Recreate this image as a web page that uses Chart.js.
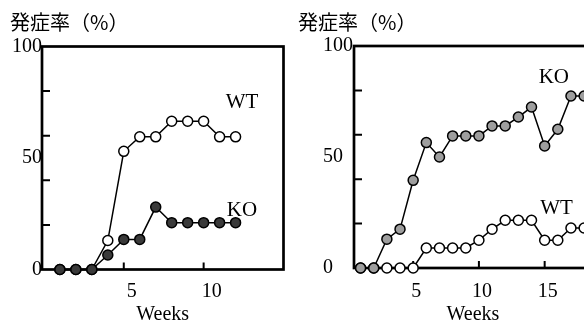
<!DOCTYPE html>
<html>
<head>
<meta charset="utf-8">
<script src="https://cdn.jsdelivr.net/npm/chart.js@4"></script>
<style>
  body { margin: 0; width: 584px; height: 325px; overflow: hidden; background: #fff; position: relative; }
  .panel { position: absolute; top: 0; height: 325px; overflow: hidden; }
</style>
</head>
<body>
<div class="panel" style="left:0;width:290px"><canvas id="left" width="290" height="325"></canvas></div>
<div class="panel" style="left:290px;width:294px"><canvas id="right" width="310" height="325"></canvas></div>
<script>
// 発症率 (%) per week
const heading = '発症率（%）';
const axisTitle = 'Weeks';

const weeksLeft = [1, 2, 3, 4, 5, 6, 7, 8, 9, 10, 11, 12];
const koLeft = [0, 0, 0, 6.5, 13.5, 13.5, 28, 21, 21, 21, 21, 21];
const wtLeft = [0, 0, 0, 13, 53, 59.5, 59.5, 66.5, 66.5, 66.5, 59.5, 59.5];

const weeksRight = [1, 2, 3, 4, 5, 6, 7, 8, 9, 10, 11, 12, 13, 14, 15, 16, 17, 18];
const koRight = [0, 0, 13, 17.5, 39.5, 56.5, 50, 59.5, 59.5, 59.5, 64, 64, 68, 72.5, 55, 62.5, 77.5, 77.5];
const wtRight = [0, 0, 0, 0, 0, 9, 9, 9, 9, 12.5, 17.5, 21.5, 21.5, 21.5, 12.5, 12.5, 18, 18];

const yTickLabels = [0, 50, 100];
const yTickMarks = [20, 40, 60, 80];
const xTicksLeft = [5, 10];
const xTicksRight = [5, 10, 15];

const serif = '"Liberation Serif", "Times New Roman", serif';
const ink = '#000';

// frame, inward tick marks, heading and the WT / KO tags
const panelDecor = {
    id: 'panelDecor',
    beforeDatasetsDraw(chart, args, opts) {
        const {ctx, chartArea: a} = chart;
        const x = chart.scales.x, y = chart.scales.y;
        ctx.save();
        ctx.strokeStyle = ink;
        ctx.lineWidth = 2.7;
        ctx.strokeRect(a.left, a.top, a.right - a.left, a.bottom - a.top);
        ctx.lineWidth = 2;
        ctx.beginPath();
        x.ticks.forEach(t => {
            const px = x.getPixelForValue(t.value);
            ctx.moveTo(px, a.bottom);
            ctx.lineTo(px, a.bottom - 7);
        });
        yTickMarks.forEach(v => {
            const py = y.getPixelForValue(v);
            ctx.moveTo(a.left, py);
            ctx.lineTo(a.left + 8, py);
        });
        ctx.stroke();
        ctx.restore();
    },
    afterDraw(chart, args, opts) {
        const ctx = chart.ctx;
        const x = chart.scales.x, y = chart.scales.y;
        ctx.save();
        ctx.fillStyle = ink;
        ctx.textBaseline = 'middle';
        ctx.textAlign = 'left';
        ctx.font = '20px "Noto Sans CJK JP", sans-serif';
        ctx.fillText(heading, opts.headingX, 22.5);
        ctx.textAlign = 'center';
        ctx.font = '21px ' + serif;
        opts.tags.forEach(t => ctx.fillText(t.text, x.getPixelForValue(t.x), y.getPixelForValue(t.y)));
        ctx.restore();
    }
};

function series(weeks, values, fill) {
    return {
        data: weeks.map((w, i) => ({x: w, y: values[i]})),
        borderColor: ink,
        borderWidth: 1.5,
        pointRadius: 5,
        pointBorderWidth: 1.5,
        pointBorderColor: ink,
        pointBackgroundColor: fill,
        tension: 0,
        clip: false
    };
}

function draw(canvas, cfg) {
    return new Chart(canvas, {
        type: 'line',
        data: {datasets: cfg.datasets},
        options: {
            responsive: false,
            animation: false,
            layout: {padding: cfg.padding},
            plugins: {
                legend: {display: false},
                tooltip: {enabled: false},
                panelDecor: {headingX: cfg.headingX, tags: cfg.tags}
            },
            scales: {
                x: {
                    type: 'linear',
                    min: cfg.xMin,
                    max: cfg.xMax,
                    grid: {display: false, drawTicks: false},
                    border: {display: false},
                    afterBuildTicks: s => { s.ticks = cfg.xTicks.map(v => ({value: v})); },
                    afterFit: s => { s.height = cfg.xHeight; },
                    ticks: {
                        color: ink,
                        font: {family: serif, size: 20},
                        padding: cfg.xPad,
                        labelOffset: cfg.xLabelOffset,
                        maxRotation: 0,
                        callback: v => String(v)
                    },
                    title: {
                        display: true,
                        text: axisTitle,
                        color: ink,
                        font: {family: serif, size: 20, lineHeight: 1},
                        padding: 0
                    }
                },
                y: {
                    min: 0,
                    max: 100,
                    grid: {display: false, drawTicks: false},
                    border: {display: false},
                    afterBuildTicks: s => { s.ticks = yTickLabels.map(v => ({value: v})); },
                    afterFit: s => { s.width = cfg.yWidth; },
                    ticks: {
                        color: ink,
                        font: {family: serif, size: 20},
                        padding: 0,
                        crossAlign: cfg.yAlign,
                        callback: v => String(v)
                    }
                }
            }
        },
        plugins: [panelDecor]
    });
}

draw(document.getElementById('left'), {
    datasets: [series(weeksLeft, koLeft, '#3a3a3a'), series(weeksLeft, wtLeft, '#ffffff')],
    padding: {left: 10, top: 46.5, right: 6, bottom: 0},
    yWidth: 32,
    yAlign: 'near',
    xHeight: 55.5,
    xMin: -0.12,
    xMax: 15,
    xTicks: xTicksLeft,
    xPad: 10.5,
    xLabelOffset: 8,
    headingX: 10,
    tags: [{text: 'WT', x: 12.4, y: 74.7}, {text: 'KO', x: 12.4, y: 26.5}]
});

draw(document.getElementById('right'), {
    datasets: [series(weeksRight, koRight, '#9e9e9e'), series(weeksRight, wtRight, '#ffffff')],
    padding: {left: 33, top: 46, right: 8, bottom: 0},
    yWidth: 31,
    yAlign: 'far',
    xHeight: 57,
    xMin: 0.5,
    xMax: 18.6,
    xTicks: xTicksRight,
    xPad: 11.5,
    xLabelOffset: 3,
    headingX: 8,
    tags: [{text: 'KO', x: 15.7, y: 85.8}, {text: 'WT', x: 15.9, y: 26.8}]
});
</script>
</body>
</html>
